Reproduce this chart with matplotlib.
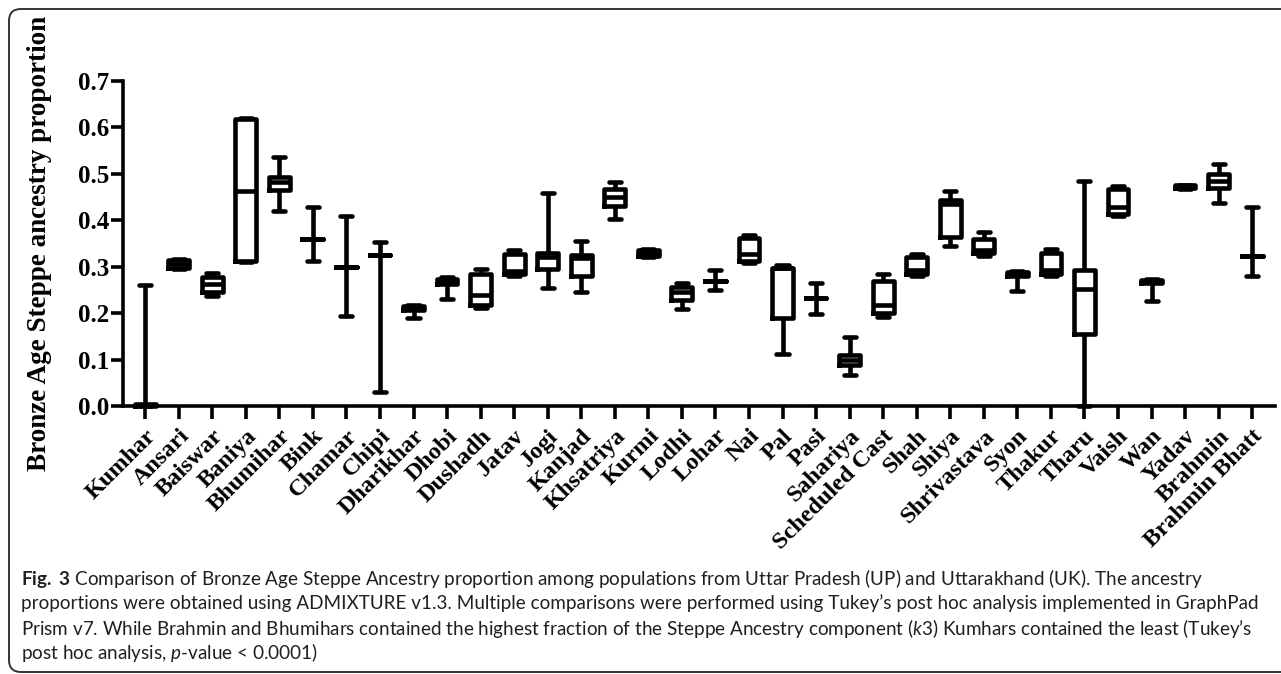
import matplotlib
matplotlib.use("Agg")
import matplotlib.pyplot as plt
from matplotlib.patches import FancyBboxPatch
from matplotlib.transforms import ScaledTranslation

plt.rcParams['mathtext.fontset'] = 'custom'
plt.rcParams['mathtext.rm'] = 'Lato'
plt.rcParams['mathtext.it'] = 'Lato:italic'
plt.rcParams['mathtext.bf'] = 'Lato:bold'

groups = ['Kumhar', 'Ansari', 'Baiswar', 'Baniya', 'Bhumihar', 'Bink', 'Chamar',
          'Chipi', 'Dharikhar', 'Dhobi', 'Dushadh', 'Jatav', 'Jogi', 'Kanjad',
          'Khsatriya', 'Kurmi', 'Lodhi', 'Lohar', 'Nai', 'Pal', 'Pasi', 'Sahariya',
          'Scheduled Cast', 'Shah', 'Shiya', 'Shrivastava', 'Syon', 'Thakur',
          'Tharu', 'Vaish', 'Wan', 'Yadav', 'Brahmin', 'Brahmin Bhatt']

# min / lower quartile / median / upper quartile / max per population
mins = [0.000, 0.296, 0.238, 0.310, 0.420, 0.312, 0.193, 0.030, 0.190, 0.230,
        0.212, 0.279, 0.255, 0.245, 0.402, 0.322, 0.210, 0.249, 0.307, 0.113,
        0.198, 0.067, 0.192, 0.279, 0.344, 0.324, 0.248, 0.280, 0.000, 0.410,
        0.226, 0.468, 0.438, 0.280]
q1s = [0.000, 0.298, 0.245, 0.312, 0.466, 0.360, 0.300, 0.326, 0.206, 0.262,
       0.218, 0.284, 0.295, 0.281, 0.430, 0.323, 0.228, 0.270, 0.312, 0.190,
       0.232, 0.088, 0.200, 0.285, 0.363, 0.330, 0.280, 0.285, 0.156, 0.414,
       0.266, 0.470, 0.470, 0.324]
meds = [0.002, 0.305, 0.262, 0.463, 0.482, 0.360, 0.300, 0.326, 0.212, 0.270,
        0.240, 0.290, 0.322, 0.318, 0.450, 0.330, 0.245, 0.270, 0.328, 0.298,
        0.232, 0.100, 0.217, 0.294, 0.435, 0.336, 0.285, 0.292, 0.253, 0.428,
        0.270, 0.473, 0.485, 0.324]
q3s = [0.004, 0.314, 0.278, 0.618, 0.494, 0.360, 0.300, 0.326, 0.216, 0.274,
       0.285, 0.327, 0.329, 0.326, 0.468, 0.336, 0.256, 0.270, 0.362, 0.298,
       0.232, 0.110, 0.270, 0.320, 0.444, 0.360, 0.288, 0.330, 0.292, 0.468,
       0.272, 0.475, 0.500, 0.324]
maxs = [0.260, 0.316, 0.286, 0.620, 0.537, 0.428, 0.410, 0.354, 0.217, 0.278,
        0.296, 0.335, 0.459, 0.356, 0.482, 0.338, 0.264, 0.292, 0.369, 0.303,
        0.264, 0.149, 0.285, 0.328, 0.464, 0.375, 0.290, 0.339, 0.485, 0.474,
        0.274, 0.477, 0.521, 0.428]

y_ticks = [0.0, 0.1, 0.2, 0.3, 0.4, 0.5, 0.6, 0.7]

caption = [
    r"$\mathbf{Fig.\ 3}$ Comparison of Bronze Age Steppe Ancestry proportion among populations from Uttar Pradesh (UP) and Uttarakhand (UK). The ancestry",
    "proportions were obtained using ADMIXTURE v1.3. Multiple comparisons were performed using Tukey\u2019s post hoc analysis implemented in GraphPad",
    r"Prism v7. While Brahmin and Bhumihars contained the highest fraction of the Steppe Ancestry component ($\it{k3}$) Kumhars contained the least (Tukey" "\u2019s",
    r"post hoc analysis, $\it{p}$-value < 0.0001)",
]

W, H = 1281, 674
fig = plt.figure(figsize=(W / 100, H / 100), dpi=100)
ax = fig.add_axes([123 / W, 1 - 406 / H, (1275 - 123) / W, (406 - 81) / H])

stats = []
for g, lo, a, m, b, hi in zip(groups, mins, q1s, meds, q3s, maxs):
    stats.append({'label': g, 'whislo': lo, 'q1': a, 'med': m, 'q3': b, 'whishi': hi})

lw = 3.3
line = dict(color='black', linewidth=lw, solid_capstyle='butt')
cap = dict(color='black', linewidth=lw, solid_capstyle='round')
ax.bxp(stats, positions=range(len(groups)), widths=0.62, capwidths=0.36,
       showfliers=False, boxprops=dict(color='black', linewidth=lw),
       whiskerprops=line, capprops=cap, medianprops=line, manage_ticks=False)
for art in ax.lines + ax.patches:
    art.set_clip_on(False)

ax.set_xlim(-0.66, len(groups) - 1 + 0.68)
ax.set_ylim(0, 0.7)
ax.set_yticks(y_ticks)
ax.set_yticklabels([f"{v:.1f}" for v in y_ticks], fontfamily='Liberation Serif',
                   fontweight='bold', fontsize=18)
ax.set_xticks(range(len(groups)))
ax.set_xticklabels(groups, rotation=45, ha='right', rotation_mode='anchor',
                   fontfamily='Liberation Serif', fontweight='bold', fontsize=17.5)
shift = ScaledTranslation(-8 / 100, 0, fig.dpi_scale_trans)
for lab in ax.get_xticklabels():
    lab.set_transform(lab.get_transform() + shift)
ax.tick_params(axis='both', direction='out', length=9, width=2.6, color='black')
ax.tick_params(axis='x', pad=5)
ax.tick_params(axis='y', pad=1)
for s in ['top', 'right']:
    ax.spines[s].set_visible(False)
for s in ['left', 'bottom']:
    ax.spines[s].set_linewidth(2.6)

fig.text(40 / W, 1 - 243 / H, 'Bronze Age Steppe ancestry proportion', rotation=90,
         ha='center', va='center', fontfamily='Liberation Serif',
         fontweight='bold', fontsize=19.5)

for i, txt in enumerate(caption):
    fig.text(21 / W, 1 - (578 + 25 * i) / H, txt, ha='left', va='center',
             fontfamily='Lato', fontsize=13.6, color='#231f20')

frame = FancyBboxPatch((9 / 100, 2 / 100), 13.2, (665 - 2) / 100,
                       boxstyle='round,pad=0,rounding_size=0.12',
                       transform=fig.dpi_scale_trans, facecolor='none',
                       edgecolor='#333333', linewidth=1.4)
fig.patches.append(frame)

fig.savefig('out.png', dpi=100)
